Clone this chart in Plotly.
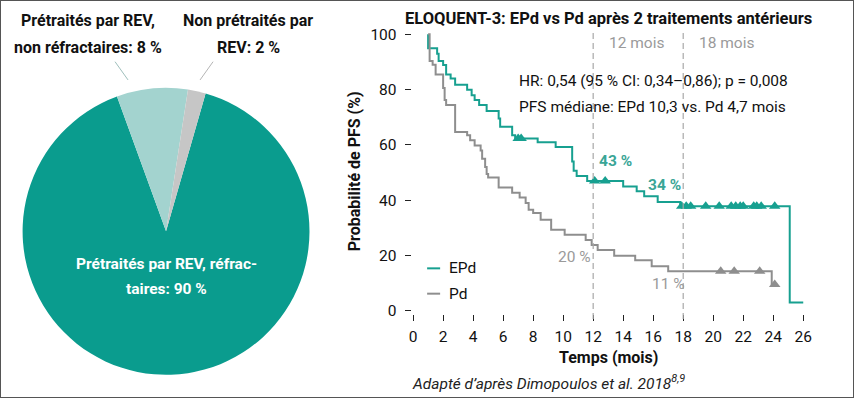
import plotly.graph_objects as go

W, H = 854, 398

# ---------------- data ----------------
pie_labels = ["Prétraités par REV, réfractaires", "Prétraités par REV, non réfractaires", "Non prétraités par REV"]
pie_values = [90, 8, 2]
pie_colors = ["#0a9c8e", "#a3d3cf", "#c6c6c6"]

epd_t = [1.0, 1.0, 1.6, 1.7, 2.0, 2.2, 2.5, 2.8, 3.6, 3.9, 4.1, 4.4, 4.9, 5.7, 5.8, 6.6, 6.8, 8.3, 9.5,
         10.6, 10.7, 10.9, 11.6, 14.0, 14.9, 15.4, 16.3, 17.8, 25.1, 26.0]
epd_s = [100, 95, 93, 90.4, 88.9, 85.5, 84, 81.8, 80, 78, 76.3, 74.5, 72.3, 69.6, 66.6, 63.5, 62.3, 61, 59.3,
         54, 50.7, 48.8, 47, 45, 43.3, 41.5, 39.4, 37.8, 3, 3]
epd_cens_t = [7.0, 7.2, 12.1, 12.8, 17.9, 18.2, 18.5, 19.5, 20.4, 21.2, 21.5, 21.8, 22.0, 22.7, 22.9, 23.2, 24.1]
epd_cens_s = [62.3, 62.3, 47, 47, 37.8, 37.8, 37.8, 37.8, 37.8, 37.8, 37.8, 37.8, 37.8, 37.8, 37.8, 37.8, 37.8]

pd_t = [1.0, 1.1, 1.3, 1.5, 2.0, 2.1, 2.2, 2.8, 3.6, 3.8, 4.1, 4.5, 4.6, 4.8, 4.9, 5.0, 5.7, 6.6, 7.1, 7.5,
        7.7, 8.0, 8.5, 9.2, 10.1, 11.5, 11.9, 12.3, 13.4, 14.8, 15.9, 17.0, 23.9, 24.2]
pd_s = [100, 90.4, 89, 85.5, 80.6, 76.3, 74.5, 64.7, 63.5, 61.7, 59.8, 58, 55, 52, 49.5, 48.2, 44.6, 42.7, 41, 39,
        36.6, 35.4, 33, 29.3, 27.5, 25.6, 23.8, 22, 19.9, 18.3, 16.1, 14.3, 9.5, 9.5]
pd_cens_t = [20.5, 21.4, 23.1, 24.1]
pd_cens_s = [14.3, 14.3, 14.3, 9.5]

x_ticks = list(range(0, 27, 2))
y_ticks = [0, 20, 40, 60, 80, 100]

TEAL = "#17a090"
GREY = "#8e8e8e"
FONT = "Roboto"

# the photographed page maps figure pixel (x, y) to about (3 + 0.988 x, 9 + 0.955 y)
SX, OX, SY, OY = 0.988, 3.0, 0.955, 9.0


def px(x):
    """target picture x (pixels) -> paper fraction"""
    return ((x - OX) / SX) / W


def py(y):
    """target picture y (pixels, from top) -> paper fraction"""
    return 1 - ((y - OY) / SY) / H


fig = go.Figure()

pc_x, pc_y, pr = 166, 231.5, 146
fig.add_trace(go.Pie(
    labels=pie_labels, values=pie_values, sort=False, direction="clockwise", rotation=16,
    marker=dict(colors=pie_colors, line=dict(width=0)), textinfo="none", hoverinfo="label+percent",
    domain=dict(x=[px(pc_x - pr), px(pc_x + pr)], y=[py(pc_y + pr * 0.97), py(pc_y - pr * 0.97)]),
    showlegend=False,
))

fig.add_trace(go.Scatter(x=epd_t, y=epd_s, mode="lines", line=dict(color=TEAL, width=2, shape="hv"),
                         name="EPd", showlegend=False))
fig.add_trace(go.Scatter(x=pd_t, y=pd_s, mode="lines", line=dict(color=GREY, width=2, shape="hv"),
                         name="Pd", showlegend=False))
fig.add_trace(go.Scatter(x=epd_cens_t, y=epd_cens_s, mode="markers",
                         marker=dict(symbol="triangle-up", size=10, color=TEAL), showlegend=False))
fig.add_trace(go.Scatter(x=pd_cens_t, y=pd_cens_s, mode="markers",
                         marker=dict(symbol="triangle-up", size=10, color=GREY), showlegend=False))

fig.update_xaxes(range=[-0.1, 26.1], domain=[px(411.5), px(804.5)], tickvals=x_ticks, ticks="outside",
                 ticklen=6, tickcolor="#222", tickwidth=1, showgrid=False, zeroline=False, showline=False,
                 tickfont=dict(family=FONT, size=15.5, color="#111"), ticklabelstandoff=3, fixedrange=True)
fig.update_yaxes(range=[-1, 101], domain=[py(312.73), py(34.27)], tickvals=y_ticks, ticks="outside",
                 ticklen=6, tickcolor="#222", tickwidth=1, showgrid=False, zeroline=False, showline=False,
                 tickfont=dict(family=FONT, size=15.5, color="#111"), ticklabelstandoff=5, fixedrange=True)

shapes = []
for m in (12, 18):
    shapes.append(dict(type="line", xref="x", yref="paper", x0=m, x1=m, y0=py(318), y1=py(35),
                       line=dict(color="#a8a8a8", width=1.2, dash="6px,4px")))
# legend samples
shapes.append(dict(type="line", xref="paper", yref="paper", x0=px(427), x1=px(440), y0=py(268), y1=py(268),
                   line=dict(color=TEAL, width=2)))
shapes.append(dict(type="line", xref="paper", yref="paper", x0=px(427), x1=px(440), y0=py(293), y1=py(293),
                   line=dict(color=GREY, width=2)))
# pie label connectors
shapes.append(dict(type="line", xref="paper", yref="paper", x0=px(115), x1=px(128), y0=py(64), y1=py(82),
                   line=dict(color="#9fbfbc", width=1)))
shapes.append(dict(type="line", xref="paper", yref="paper", x0=px(213), x1=px(200), y0=py(64), y1=py(82),
                   line=dict(color="#b5b5b5", width=1)))

ann = []


def A(text, x, y, size=15, color="#111", bold=False, xanchor="center", xref="paper", yref="paper", **kw):
    t = f"<b>{text}</b>" if bold else text
    d = dict(text=t, x=x, y=y, xref=xref, yref=yref, showarrow=False, xanchor=xanchor, yanchor="middle",
             font=dict(family=FONT, size=size, color=color))
    d.update(kw)
    ann.append(d)


A("Prétraités par REV,", px(88), py(23), size=16, bold=True)
A("non réfractaires: 8 %", px(88), py(50), size=16, bold=True)
A("Non prétraités par", px(248), py(23), size=16, bold=True)
A("REV: 2 %", px(248), py(50), size=16, bold=True)
A("Prétraités par REV, réfrac-", px(166), py(264), size=15.5, color="white", bold=True)
A("taires: 90 %", px(166), py(288), size=15.5, color="white", bold=True)
A("ELOQUENT-3: EPd vs Pd après 2 traitements antérieurs", px(608), py(21), size=16.5, bold=True)
A("12 mois", px(607), py(46), size=15.5, color="#9a9a9a", xanchor="left")
A("18 mois", px(697), py(46), size=15.5, color="#9a9a9a", xanchor="left")
A("HR: 0,54 (95 % CI: 0,34–0,86); p = 0,008", px(517), py(83), size=15.5, xanchor="left")
A("PFS médiane: EPd 10,3 vs. Pd 4,7 mois", px(517), py(109), size=15.5, xanchor="left")
A("43 %", 13.47, 54.2, size=15.5, color="#3aa596", bold=True, xref="x", yref="y")
A("34 %", 16.73, 45.4, size=15.5, color="#3aa596", bold=True, xref="x", yref="y")
A("20 %", 10.73, 19.4, size=15.5, color="#9a9a9a", xref="x", yref="y")
A("11 %", 17.0, 9.9, size=15.5, color="#9a9a9a", xref="x", yref="y")
A("EPd", px(447), py(268), size=15.5, xanchor="left")
A("Pd", px(447), py(293), size=15.5, xanchor="left")
A("Temps (mois)", px(608), py(356), size=16, bold=True)
A("<i>Adapté d’après Dimopoulos et al. 2018<sup>8,9</sup></i>", px(410), py(381), size=15.5, color="#222",
  xanchor="left")
A("Probabilité de PFS (%)", px(354), py(172), size=16, bold=True, textangle=-90)

fig.update_layout(width=W, height=H, margin=dict(l=0, r=0, t=0, b=0), paper_bgcolor="white",
                  plot_bgcolor="white", shapes=shapes, annotations=ann, showlegend=False)

frame_js = (
    "document.body.style.margin='0';document.body.style.overflow='hidden';"
    "var fr=document.createElement('div');"
    "fr.style.cssText='position:fixed;left:0;top:0;right:0;bottom:0;border:1.6px solid #555;"
    "box-sizing:border-box;pointer-events:none;z-index:1000;';"
    "document.body.appendChild(fr);"
)
fig.write_html("out.html", config={"displayModeBar": False}, post_script=frame_js)
